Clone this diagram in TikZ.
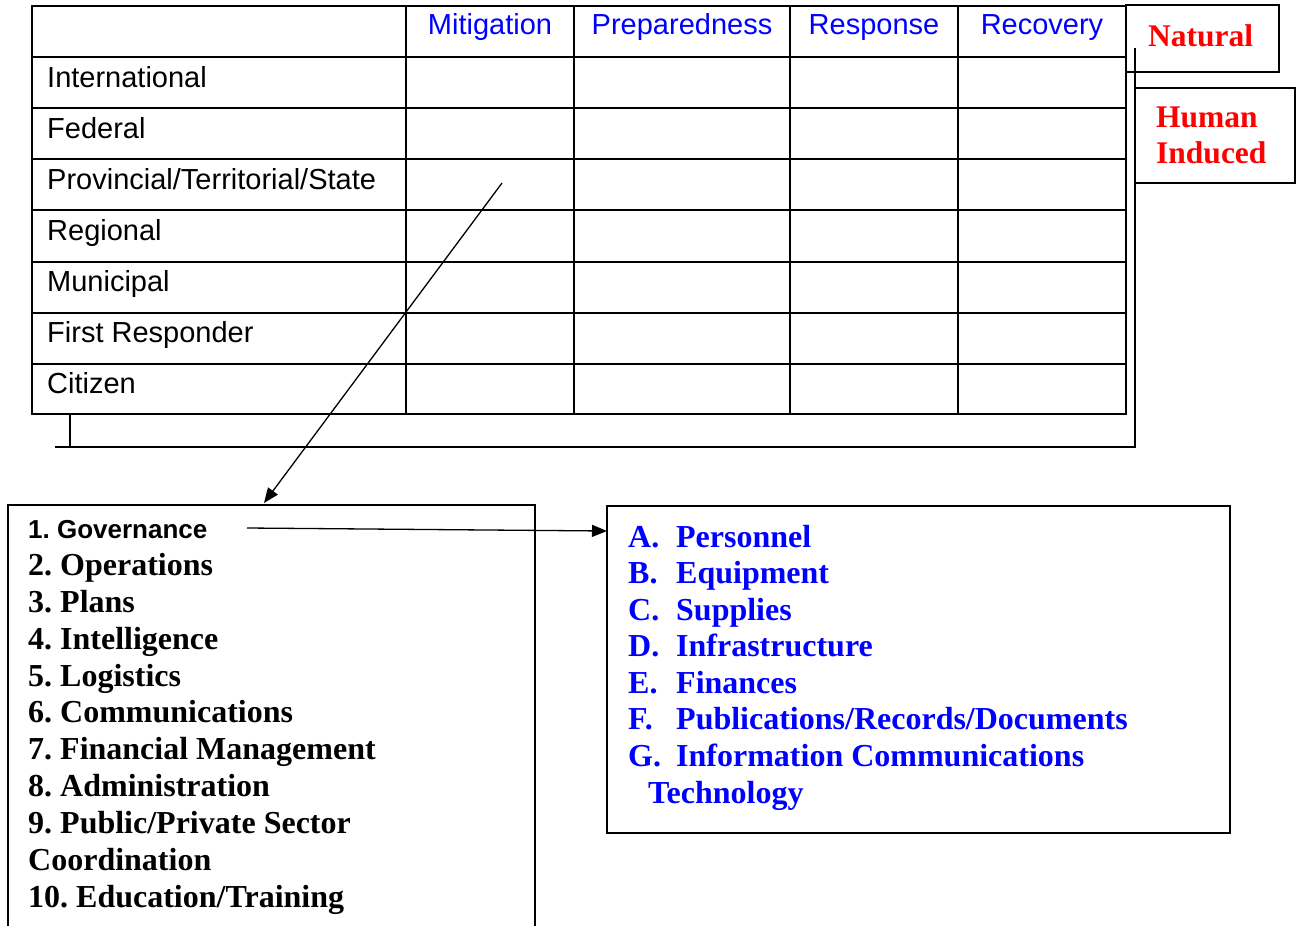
\documentclass[tikz,border=0pt]{standalone}
\usepackage{fontspec}
\setmainfont{Liberation Serif}
\newfontfamily\arialf{Liberation Sans}
\usetikzlibrary{arrows.meta}
\definecolor{pureblue}{RGB}{0,0,255}
\definecolor{purered}{RGB}{255,0,0}
\frenchspacing
\begin{document}
\begin{tikzpicture}[x=1pt,y=-1pt,
  grid/.style={line width=1.7pt},
  thin/.style={line width=1.3pt},
  rowlbl/.style={anchor=base west,inner sep=0pt,font=\arialf\fontsize{29}{34}\selectfont},
  collbl/.style={anchor=base,inner sep=0pt,text=pureblue,font=\arialf\fontsize{29}{34}\selectfont},
  hazard/.style={anchor=base west,inner sep=0pt,text=purered,font=\bfseries\fontsize{31.5}{37}\selectfont},
  blkitem/.style={anchor=base west,inner sep=0pt,font=\bfseries\fontsize{32}{37}\selectfont},
  bluitem/.style={anchor=base west,inner sep=0pt,text=pureblue,font=\bfseries\fontsize{32}{37}\selectfont},
  arr/.style={thin,-{Triangle[length=15pt,width=12pt]}}
]
\useasboundingbox (0,0) rectangle (1301,926);
% table
\draw[grid] (32,6) rectangle (1126,414);
\foreach \yy in {57,108,159,210,262,313,364}
  \draw[grid] (32,\yy) -- (1126,\yy);
\foreach \xx in {406,574,790,958}
  \draw[grid] (\xx,6) -- (\xx,414);
% header labels
\node[collbl] (hmit) at (490,34) {Mitigation};
\node[collbl] (hpre) at (682,34) {Preparedness};
\node[collbl] (hres) at (874,34) {Response};
\node[collbl] (hrec) at (1042,34) {Recovery};
% row labels
\node[rowlbl] (rint) at (47,87) {International};
\node[rowlbl] (rfed) at (47,138) {Federal};
\node[rowlbl] (rpro) at (47,189) {Provincial/Territorial/State};
\node[rowlbl] (rreg) at (47,240) {Regional};
\node[rowlbl] (rmun) at (47,291) {Municipal};
\node[rowlbl] (rfir) at (47,342) {First Responder};
\node[rowlbl] (rcit) at (47,393) {Citizen};
% hazard boxes
\draw[grid] (1126,5) rectangle (1279,72);
\node[hazard] (nat) at (1148,46) {Natural};
\draw[grid] (1135,88) rectangle (1295,183);
\node[hazard] (hum) at (1156,127) {Human};
\node[hazard] (ind) at (1156,163) {Induced};
% bracket
\coordinate (brtop) at (1135,48);
\coordinate (brcorner) at (1135,447);
\coordinate (brleft) at (55,447);
\coordinate (ticktop) at (70,413);
\coordinate (tickbot) at (70,447);
\draw[thin] (brtop) -- (brcorner) -- (brleft);
\draw[thin] (ticktop) -- (tickbot);
% left box
\draw[grid] (8,935) -- (8,505) -- (535,505) -- (535,935);
\node[blkitem,font=\arialf\bfseries\fontsize{26}{30}\selectfont] (l1) at (28,538) {1. Governance};
\node[blkitem] (l2) at (28,575) {2. Operations};
\node[blkitem] (l3) at (28,612) {3. Plans};
\node[blkitem] (l4) at (28,649) {4. Intelligence};
\node[blkitem] (l5) at (28,686) {5. Logistics};
\node[blkitem] (l6) at (28,722) {6. Communications};
\node[blkitem] (l7) at (28,759) {7. Financial Management};
\node[blkitem] (l8) at (28,796) {8. Administration};
\node[blkitem] (l9) at (28,833) {9. Public/Private Sector};
\node[blkitem] (l9b) at (28,870) {Coordination};
\node[blkitem] (l10) at (28,907) {10. Education/Training};
% right box
\draw[grid] (607,506) rectangle (1230,833);
\node[bluitem] (ra) at (628,547) {\makebox[48pt][l]{A.}Personnel};
\node[bluitem] (rb) at (628,583.5) {\makebox[48pt][l]{B.}Equipment};
\node[bluitem] (rc) at (628,620) {\makebox[48pt][l]{C.}Supplies};
\node[bluitem] (rd) at (628,656.5) {\makebox[48pt][l]{D.}Infrastructure};
\node[bluitem] (re) at (628,693) {\makebox[48pt][l]{E.}Finances};
\node[bluitem] (rf) at (628,729.5) {\makebox[48pt][l]{F.}Publications/Records/Documents};
\node[bluitem] (rg) at (628,766) {\makebox[48pt][l]{G.}Information Communications};
\node[bluitem] (rg2) at (648,803) {Technology};
% connectors
\coordinate (pcell) at (502,183);
\coordinate (lboxin) at (264,503);
\draw[arr] (pcell) -- (lboxin);
\coordinate (govout) at (247,528);
\coordinate (rboxin) at (607,531);
\draw[arr] (govout) -- (rboxin);
\end{tikzpicture}
\end{document}
